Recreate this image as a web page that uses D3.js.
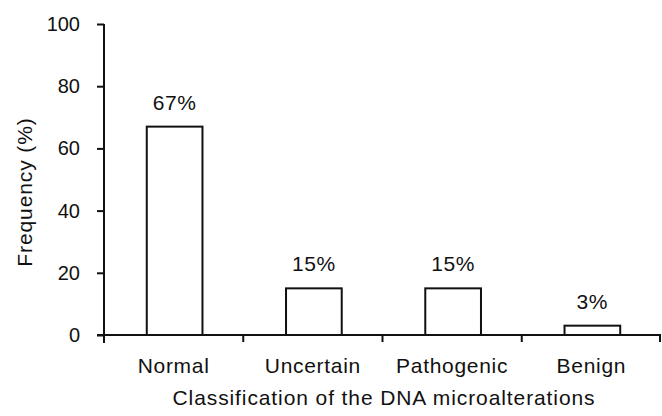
<!DOCTYPE html>
<html>
<head>
<meta charset="utf-8">
<script src="https://cdn.jsdelivr.net/npm/d3@7"></script>
<style>
  body { margin: 0; background: #fff; }
  svg { display: block; font-family: "Liberation Sans", Arial, sans-serif; }
  text { fill: #111; }
</style>
</head>
<body>
<svg id="chart" width="662" height="416"></svg>
<script>
// values
const categories = ["Normal", "Uncertain", "Pathogenic", "Benign"];
const frequencies = [67, 15, 15, 3];
const yTicks = [0, 20, 40, 60, 80, 100];

const svg = d3.select("#chart");
const margin = {left: 104, right: 1, top: 24, bottom: 81};
const width = 662, height = 416;

const x = d3.scaleBand()
    .domain(categories)
    .range([margin.left, width - margin.right])
    .padding(0);

const y = d3.scaleLinear()
    .domain([0, 100])
    .range([height - margin.bottom, margin.top]);

const ink = "#111";
const barW = x.bandwidth() * 0.4;

// bars
svg.append("g")
    .selectAll("rect")
    .data(frequencies)
    .join("rect")
    .attr("x", (d, i) => x(categories[i]) + (x.bandwidth() - barW) / 2 + 1)
    .attr("y", d => y(d))
    .attr("width", barW)
    .attr("height", d => y(0) - y(d))
    .attr("fill", "#fff")
    .attr("stroke", ink)
    .attr("stroke-width", 2);

// value labels
svg.append("g")
    .selectAll("text")
    .data(frequencies)
    .join("text")
    .attr("x", (d, i) => x(categories[i]) + x.bandwidth() / 2 + 1)
    .attr("y", d => y(d) - 17)
    .attr("text-anchor", "middle")
    .attr("font-size", 21)
    .attr("letter-spacing", 0.6)
    .text(d => d + "%");

// y axis
const yAxis = svg.append("g")
    .attr("transform", `translate(${margin.left},0)`)
    .call(d3.axisLeft(y).tickValues(yTicks).tickSize(7).tickPadding(17));
yAxis.select(".domain").attr("d", `M0,${y(100)}V${y(0) + 8}`);
yAxis.selectAll("line, path").attr("stroke", ink).attr("stroke-width", 2);
yAxis.selectAll("text").attr("font-size", 20).attr("fill", ink)
    .attr("font-family", "Liberation Sans, Arial, sans-serif");

// x axis: line with ticks at category boundaries
const bounds = categories.map(c => x(c)).concat([x.range()[1] - 1]);
const xAxis = svg.append("g");
xAxis.append("line")
    .attr("x1", margin.left - 7).attr("x2", width - margin.right)
    .attr("y1", y(0)).attr("y2", y(0))
    .attr("stroke", ink).attr("stroke-width", 2);
xAxis.selectAll(".bt")
    .data(bounds.slice(1))
    .join("line")
    .attr("x1", d => d).attr("x2", d => d)
    .attr("y1", y(0)).attr("y2", y(0) + 7)
    .attr("stroke", ink).attr("stroke-width", 2);
xAxis.selectAll("text")
    .data(categories)
    .join("text")
    .attr("x", d => x(d) + x.bandwidth() / 2)
    .attr("y", y(0) + 38)
    .attr("text-anchor", "middle")
    .attr("font-size", 21)
    .attr("letter-spacing", 0.7)
    .text(d => d);

// axis titles
svg.append("text")
    .attr("transform", "translate(32,192) rotate(-90)")
    .attr("text-anchor", "middle")
    .attr("font-size", 21)
    .attr("letter-spacing", 0.9)
    .text("Frequency (%)");

svg.append("text")
    .attr("x", 384)
    .attr("y", 405)
    .attr("text-anchor", "middle")
    .attr("font-size", 21)
    .attr("letter-spacing", 0.9)
    .text("Classification of the DNA microalterations");
</script>
</body>
</html>
